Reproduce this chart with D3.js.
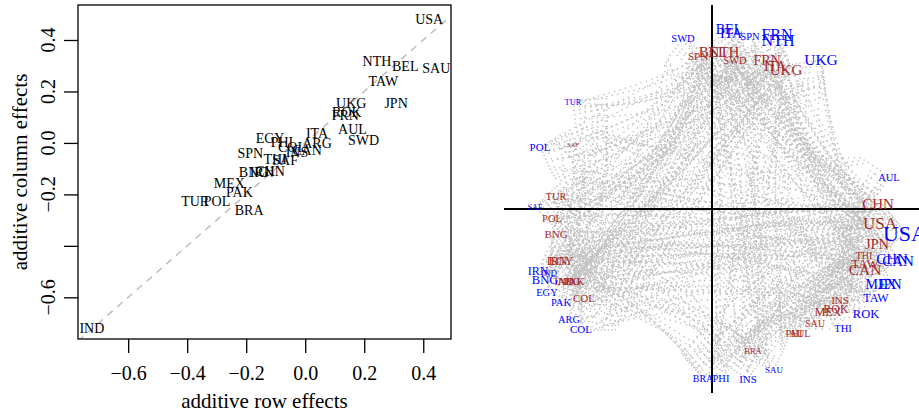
<!DOCTYPE html>
<html>
<head>
<meta charset="utf-8">
<script src="https://cdn.jsdelivr.net/npm/d3@7"></script>
<style>
  body { margin: 0; background: #fff; }
  svg { display: block; }
  text { font-family: "Liberation Serif", "Times New Roman", serif; }
</style>
</head>
<body>
<div id="chart"></div>
<script>
// country codes, shared by both panels
const countries = ["USA","CAN","CHN","JPN","MEX","TAW","ROK","THI","INS","SAU",
  "PHI","AUL","BRA","COL","ARG","PAK","IND","IRN","EGY","BNG",
  "POL","TUR","SAF","SPN","BEL","NTH","SWD","FRN","ITA","UKG"];

// left panel: additive effects
const rowEffect = [0.420, 0.006, -0.119, 0.308, -0.257, 0.265, 0.141, -0.102, -0.028, 0.444,
  -0.079, 0.160, -0.190, -0.045, 0.040, -0.223, -0.723, -0.147, -0.119, -0.175,
  -0.299, -0.373, -0.068, -0.186, 0.339, 0.243, 0.198, 0.136, 0.040, 0.156];
const colEffect = [0.480, -0.028, -0.108, 0.155, -0.155, 0.241, 0.118, -0.061, -0.035, 0.289,
  0.004, 0.052, -0.261, -0.016, -0.002, -0.190, -0.718, -0.113, 0.017, -0.113,
  -0.226, -0.226, -0.067, -0.041, 0.299, 0.317, 0.010, 0.108, 0.037, 0.155];
const xTicks = [-0.6, -0.4, -0.2, 0.0, 0.2, 0.4];
const yTicks = [-0.6, -0.4, -0.2, 0.0, 0.2, 0.4];
const yTickLabels = [-0.6, -0.2, 0.0, 0.2, 0.4]; // -0.4 dropped (overlap)

// right panel: latent positions (blue = outer, red = inner) and label weights
const blueU = [0.965, 0.93, 0.90, 0.89, 0.845, 0.82, 0.77, 0.655, 0.18, 0.31,
  0.045, 0.885, -0.045, -0.655, -0.715, -0.755, -0.815, -0.87, -0.825, -0.835,
  -0.86, -0.695, -0.885, 0.19, 0.085, 0.33, -0.145, 0.325, 0.095, 0.545];
const blueV = [-0.12, -0.26, -0.25, -0.375, -0.375, -0.445, -0.525, -0.595, -0.85, -0.805,
  -0.845, 0.16, -0.845, -0.60, -0.55, -0.465, -0.32, -0.31, -0.415, -0.355,
  0.31, 0.535, 0.01, 0.865, 0.90, 0.845, 0.855, 0.875, 0.88, 0.745];
const blueWeight = [2.2, 1.5, 1.5, 1.4, 1.4, 1.2, 1.25, 1.05, 1.1, 0.9,
  1.05, 1.05, 1.0, 1.1, 1.05, 1.05, 0.9, 1.2, 1.05, 1.25,
  1.1, 0.85, 0.8, 1.05, 1.4, 1.6, 1.05, 1.6, 1.4, 1.55];

const redU = [0.84, 0.765, 0.83, 0.825, 0.58, 0.765, 0.62, 0.76, 0.64, 0.515,
  0.41, 0.44, 0.205, -0.64, -0.715, -0.69, -0.74, -0.775, -0.755, -0.78,
  -0.80, -0.78, -0.695, -0.07, 0.005, 0.06, 0.115, 0.275, 0.315, 0.37];
const redV = [-0.07, -0.305, 0.025, -0.175, -0.515, -0.27, -0.50, -0.23, -0.455, -0.57,
  -0.62, -0.62, -0.71, -0.445, -0.36, -0.36, -0.36, -0.26, -0.26, -0.125,
  -0.045, 0.065, 0.32, 0.765, 0.785, 0.785, 0.745, 0.745, 0.715, 0.695];
const redWeight = [1.7, 1.55, 1.5, 1.45, 1.2, 1.3, 1.2, 1.0, 1.1, 1.0,
  1.05, 1.05, 0.85, 1.1, 1.1, 1.1, 1.1, 1.2, 1.2, 1.1,
  1.05, 1.05, 0.65, 1.1, 1.5, 1.5, 1.05, 1.4, 1.4, 1.5];

// ties: blue country -> red partners
const partners = [
  "CHN JPN THI TAW CAN INS ROK MEX SAU PHI AUL BRA SPN BEL NTH SWD FRN ITA UKG COL IND EGY TUR PAK BNG ARG POL SAF IRN",
  "CHN USA JPN THI TAW INS ROK MEX SAU PHI AUL BRA NTH FRN ITA UKG BEL COL ARG TUR POL",
  "USA JPN THI TAW CAN INS ROK MEX SAU PHI AUL BRA SPN BEL NTH SWD FRN ITA UKG IND PAK BNG IRN",
  "CHN USA THI TAW CAN INS ROK MEX SAU PHI AUL BRA NTH FRN ITA UKG BEL IND PAK EGY IRN COL ARG BNG",
  "CHN USA JPN TAW CAN ROK BRA SPN COL ARG POL TUR",
  "CHN USA JPN THI CAN INS ROK MEX SAU PHI AUL BRA NTH UKG TUR SAF",
  "CHN USA JPN THI TAW CAN INS MEX SAU PHI AUL BRA IND IRN EGY PAK",
  "CHN USA JPN TAW INS ROK SAU PHI AUL BRA IND",
  "CHN USA JPN THI TAW ROK MEX SAU PHI AUL BRA IND PAK COL NTH UKG EGY SPN BEL SWD",
  "CHN USA JPN THI TAW INS ROK PHI AUL BRA IND PAK EGY COL UKG FRN ITA SPN NTH BEL",
  "CHN USA JPN TAW ROK THI INS SAU AUL BRA COL ARG UKG NTH SPN FRN",
  "UKG ITA FRN NTH CHN USA JPN THI TAW CAN INS ROK POL TUR SAF",
  "CHN USA JPN INS ROK MEX SAU PHI AUL COL ARG PAK IND UKG FRN NTH ITA SPN BEL TUR POL SAF",
  "USA MEX BRA ARG PAK IND EGY IRN BNG POL TUR CHN SAU PHI JPN SPN NTH UKG FRN ITA",
  "USA BRA COL PAK IND EGY IRN BNG POL TUR SAF MEX CHN SPN ITA NTH JPN UKG FRN",
  "CHN USA COL ARG IND EGY IRN BNG POL TUR SAF SAU BRA UKG JPN ITA FRN",
  "CHN USA JPN COL ARG PAK EGY IRN BNG POL TUR SAF SAU UKG BEL ITA FRN NTH TAW ROK",
  "CHN COL ARG PAK IND EGY BNG POL TUR SAF SPN ITA JPN ROK FRN NTH",
  "USA COL ARG PAK IND IRN BNG POL TUR SAF SPN ITA SAU FRN UKG NTH BEL CHN JPN",
  "CHN USA COL ARG PAK IND EGY IRN POL TUR SAF SAU UKG NTH BEL FRN JPN",
  "ARG PAK IND EGY IRN BNG TUR SAF SPN BEL NTH SWD FRN ITA UKG USA CHN JPN THI ROK",
  "IND EGY IRN BNG POL SAF SPN BEL NTH SWD FRN ITA UKG USA CHN JPN ROK",
  "COL ARG PAK IND EGY IRN BNG POL TUR SPN BEL NTH SWD UKG USA CHN JPN ITA FRN ROK TAW",
  "TUR SAF BEL NTH SWD FRN ITA UKG CHN USA POL BRA COL ARG MEX JPN EGY INS PHI",
  "POL TUR SAF SPN NTH SWD FRN ITA UKG CHN USA JPN IND EGY BRA INS ROK",
  "TUR SAF SPN BEL SWD FRN ITA UKG CHN USA JPN TAW CAN POL BRA EGY IND",
  "BNG POL TUR SAF SPN BEL NTH FRN ITA UKG CHN USA JPN IND BRA THI ROK",
  "TUR SAF SPN BEL NTH SWD ITA UKG CHN USA JPN THI CAN POL EGY BRA IND ARG",
  "POL TUR SAF SPN BEL NTH SWD FRN UKG CHN USA JPN EGY IRN BRA ARG",
  "SAF SPN BEL NTH SWD FRN ITA CHN USA JPN THI TAW CAN INS AUL IND PAK EGY TUR BRA"
];

const W = 919, H = 418;
const svg = d3.select("#chart").append("svg").attr("width", W).attr("height", H);

// ---------------- left panel ----------------
const x = d3.scaleLinear().domain([-0.770, 0.494]).range([78, 451]);
const y = d3.scaleLinear().domain([-0.762, 0.536]).range([339, 5]);
const fmt = d3.format(".1f");

svg.append("clipPath").attr("id", "clipL")
  .append("rect")
  .attr("x", x.range()[0]).attr("y", y.range()[1])
  .attr("width", x.range()[1] - x.range()[0])
  .attr("height", y.range()[0] - y.range()[1]);

const left = svg.append("g");
const inner = left.append("g").attr("clip-path", "url(#clipL)");

// y = x reference line
inner.append("line")
  .attr("x1", x(-0.77)).attr("y1", y(-0.77))
  .attr("x2", x(0.494)).attr("y2", y(0.494))
  .style("stroke", "#bebebe")
  .style("stroke-width", 1.5)
  .style("stroke-dasharray", "7 6");

inner.selectAll(".lab")
  .data(countries)
  .enter()
  .append("text")
  .attr("class", "lab")
  .attr("x", (d, i) => x(rowEffect[i]))
  .attr("y", (d, i) => y(colEffect[i]))
  .attr("dy", "0.35em")
  .attr("text-anchor", "middle")
  .style("font-size", "14px")
  .style("fill", "#000")
  .text((d) => d);

left.append("rect")
  .attr("x", x.range()[0]).attr("y", y.range()[1])
  .attr("width", x.range()[1] - x.range()[0])
  .attr("height", y.range()[0] - y.range()[1])
  .style("fill", "none")
  .style("stroke", "#000")
  .style("stroke-width", 1.3);

// x axis
const gx = left.append("g")
  .attr("transform", `translate(0,${y.range()[0]})`)
  .call(d3.axisBottom(x).tickValues(xTicks).tickSize(14).tickPadding(13).tickFormat(fmt));
gx.select(".domain").remove();
gx.selectAll("line").style("stroke", "#000").style("stroke-width", 1.3);
gx.selectAll("text").style("font-size", "20px").style("fill", "#000")
  .style("font-family", "Liberation Serif, serif");

// y axis (ticks only, labels rotated below)
const gy = left.append("g")
  .attr("transform", `translate(${x.range()[0]},0)`)
  .call(d3.axisLeft(y).tickValues(yTicks).tickSize(14).tickFormat(""));
gy.select(".domain").remove();
gy.selectAll("line").style("stroke", "#000").style("stroke-width", 1.3);

left.selectAll(".ylab")
  .data(yTickLabels)
  .enter()
  .append("text")
  .attr("class", "ylab")
  .attr("transform", (d) => `translate(55,${y(d)}) rotate(-90)`)
  .attr("text-anchor", "middle")
  .style("font-size", "20px")
  .text((d) => fmt(d));

left.append("text")
  .attr("x", (x.range()[0] + x.range()[1]) / 2)
  .attr("y", 408)
  .attr("text-anchor", "middle")
  .style("font-size", "21px")
  .text("additive row effects");

left.append("text")
  .attr("transform", `translate(27,${(y.range()[0] + y.range()[1]) / 2}) rotate(-90)`)
  .attr("text-anchor", "middle")
  .style("font-size", "21px")
  .text("additive column effects");

// ---------------- right panel ----------------
const u = d3.scaleLinear().domain([-1, 1]).range([512, 912]);
const v = d3.scaleLinear().domain([-1, 1]).range([409, 9]);
const fontSize = d3.scaleLinear().domain([0, 1]).range([0, 10]);

const idx = {};
countries.forEach((c, i) => (idx[c] = i));

// ties with their rank at each end, used to fan the curves out a little
const blueN = countries.map(() => 0);
const redN = countries.map(() => 0);
const ties = [];
partners.forEach((s, i) => {
  s.split(" ").forEach((c) => {
    const j = idx[c];
    ties.push({ i, j, kb: blueN[i]++, kr: redN[j]++ });
  });
});

// spread an end point around its label: slight radial and angular offset
const spreadEnd = (px, py, k, n, amt) => {
  const t = n > 1 ? k / (n - 1) - 0.5 : 0;
  const r = Math.hypot(px, py);
  const a = Math.atan2(py, px) + t * 0.22 * amt;
  const rr = r * (1 - 0.09 * amt * Math.abs(t * 2));
  return [rr * Math.cos(a), rr * Math.sin(a)];
};

const right = svg.append("g");

right.selectAll(".tie")
  .data(ties)
  .enter()
  .append("path")
  .attr("class", "tie")
  .attr("d", (t) => {
    const [bx, by] = spreadEnd(blueU[t.i], blueV[t.i], t.kb, blueN[t.i], 1.4);
    const [rx, ry] = spreadEnd(redU[t.j], redV[t.j], t.kr, redN[t.j], 1.4);
    const bend = 0.6 + 0.4 * (((t.kb * 7 + t.kr * 3) % 10) / 9);
    const p = d3.path();
    p.moveTo(u(bx), v(by));
    p.quadraticCurveTo(u(bend * (bx + rx) / 2), v(bend * (by + ry) / 2), u(rx), v(ry));
    return p.toString();
  })
  .style("fill", "none")
  .style("stroke", "#c0c0c0")
  .style("stroke-width", 1.4)
  .style("stroke-dasharray", "1.4 4.2");

right.append("line")
  .attr("x1", u(0)).attr("x2", u(0))
  .attr("y1", v(1.02)).attr("y2", v(-0.92))
  .style("stroke", "#000").style("stroke-width", 2);
right.append("line")
  .attr("x1", u(-1.04)).attr("x2", u(1.05))
  .attr("y1", v(0)).attr("y2", v(0))
  .style("stroke", "#000").style("stroke-width", 2);

right.selectAll(".red")
  .data(countries)
  .enter()
  .append("text")
  .attr("class", "red")
  .attr("x", (d, i) => u(redU[i]))
  .attr("y", (d, i) => v(redV[i]))
  .attr("dy", "0.35em")
  .attr("text-anchor", "middle")
  .style("font-size", (d, i) => fontSize(redWeight[i]) + "px")
  .style("fill", "#A52A2A")
  .text((d) => d);

right.selectAll(".blue")
  .data(countries)
  .enter()
  .append("text")
  .attr("class", "blue")
  .attr("x", (d, i) => u(blueU[i]))
  .attr("y", (d, i) => v(blueV[i]))
  .attr("dy", "0.35em")
  .attr("text-anchor", "middle")
  .style("font-size", (d, i) => fontSize(blueWeight[i]) + "px")
  .style("fill", "#0000FF")
  .text((d) => d);
</script>
</body>
</html>
